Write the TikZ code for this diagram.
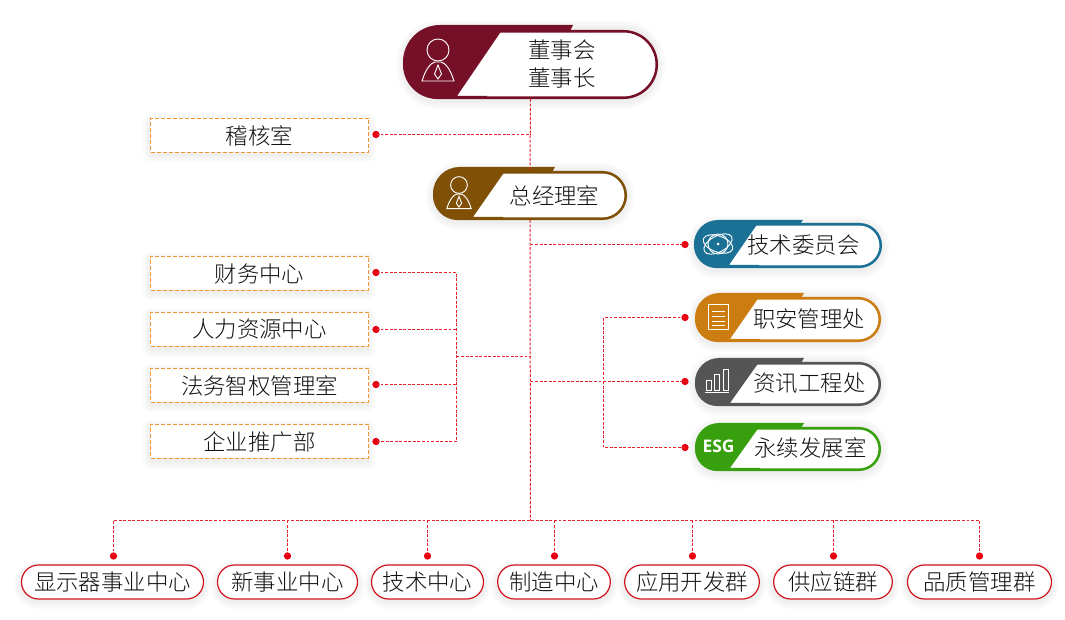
\documentclass[tikz,border=0pt]{standalone}
\usepackage{fontspec}
\setmainfont{Noto Sans CJK SC}[UprightFont=* Light,BoldFont=*]
\newfontfamily\esgfont{Open Sans}
\usetikzlibrary{shapes.misc}
\definecolor{cdsh}{HTML}{760F28}
\definecolor{czjl}{HTML}{7F5006}
\definecolor{cjsw}{HTML}{1A7195}
\definecolor{czaa}{HTML}{CB7D12}
\definecolor{czxg}{HTML}{555555}
\definecolor{cesg}{HTML}{38A00E}
\definecolor{linered}{HTML}{E8202A}
\definecolor{dotred}{HTML}{E60012}
\definecolor{pillred}{HTML}{D2141E}
\definecolor{boxorange}{HTML}{EE9534}
\definecolor{txt}{HTML}{111111}
\tikzset{
  conn/.style={draw=linered,line width=0.75pt,dash pattern=on 2.2pt off 1.2pt},
  dot/.style={circle,fill=dotred,inner sep=0pt,minimum size=5.5pt},
  lab/.style={text=txt,font=\fontsize{16.8}{21}\selectfont,inner sep=0pt},
  boxn/.style={draw=boxorange,line width=0.95pt,dash pattern=on 3pt off 1.5pt,fill=white,
    inner sep=0pt,minimum width=163.5pt,minimum height=25.5pt,lab},
  botpill/.style={rounded rectangle,draw=pillred,line width=0.9pt,fill=white,inner sep=0pt,
    minimum height=25.5pt,lab},
  icon/.style={draw=white,line width=0.7pt,fill=none},
  shadowlayer/.style={fill=black,opacity=0.014}
}
% soft shadow: L T R B radius(px)
\newcommand\softshade[5]{%
  \foreach \k in {1,3,5,7}{%
    \fill[shadowlayer,rounded corners={(#5+\k)*0.75pt}]
      (#1-\k,#2-\k+3) rectangle (#3+\k,#4+\k+3);}}
% name L R T T2 B tabR whiteTopX whiteBottomX ; colour is c<name>
\newcommand\pillshape[9]{%
  \pgfmathsetmacro\pr{(#6-#5)/2}%
  \pgfmathsetmacro\prr{(#6-#4)/2}%
  \softshade{#2}{#4}{#3}{#6}{\pr}
  \node[rounded rectangle,draw=c#1,fill=white,line width=1.9pt,inner sep=0pt,
    minimum width={(#3-#2-2.5)*0.75pt},minimum height={(#6-#5-2.5)*0.75pt}]
    (#1) at ({(#2+#3)/2},{(#5+#6)/2}) {};
  \fill[c#1] (#7,#4) -- (#7-3,#5+1)  -- (#8+1,#5+1) -- (#8,#5+3) -- (#9,#6-3) -- (#9+30,#6-3) -- (#9+30,#6)
    [rounded corners={\prr*0.75pt}] -- (#2,#6) -- (#2,#4) [sharp corners] -- cycle;
}
% person icon: centre x, head y, scale
\newcommand\person[3]{%
  \begin{scope}[shift={(#1,#2)},scale=#3]
    \draw[icon] (0,0) circle [radius=11];
    \draw[icon] (-16,31) .. controls (-12,18) and (-7,13) .. (-3,12) -- (3,12)
       .. controls (7,13) and (12,18) .. (16,31) -- cycle;
    \draw[icon] (0,15) -- (3.5,24) -- (0,29) -- (-3.5,24) -- cycle;
  \end{scope}}
\begin{document}
\begin{tikzpicture}[x=0.75pt,y=-0.75pt]
\useasboundingbox (0,0) rectangle (1065,620);
\fill[white] (0,0) rectangle (1065,620);

% ---- top pills
\pillshape{dsh}{403}{658}{25}{30}{99}{573}{500}{457}
\person{438}{50}{1}
\node[lab,align=center] (dsh-t) at (562,64) {董事会\\[0pt]董事长};
\pillshape{zjl}{433}{627}{167}{171}{220}{555}{503}{473}
\person{459}{185}{0.76}
\node[lab] (zjl-t) at (554.5,196) {总经理室};

% ---- right pills
\pillshape{jsw}{694}{882}{220}{223}{268}{803}{756}{729}
\begin{scope}[shift={(718,244)}]
  \draw[icon,rotate=28] (0,0) ellipse [x radius=15.5,y radius=8];
  \draw[icon,rotate=-20] (0,0) ellipse [x radius=15.5,y radius=8];
  \draw[icon] (0,0) circle [radius=10];
  \fill[white] (0,0) circle [radius=1.5];
\end{scope}
\node[lab] (jsw-t) at (803.5,245) {技术委员会};

\pillshape{zaa}{695}{881}{293}{297}{342}{804}{757}{730}
\draw[icon] (708,304.5) rectangle (728.5,329);
\foreach \yy in {311,316,321,325}{\draw[white,line width=0.6pt] (712,\yy) -- (725,\yy);}
\node[lab] (zaa-t) at (809,319) {职安管理处};

\pillshape{zxg}{695}{881}{358}{362}{406}{804}{757}{730}
\draw[icon] (706,380) rectangle (711,390);
\draw[icon] (714,374) rectangle (719.5,390);
\draw[icon] (723,369) rectangle (728.5,390);
\draw[white,line width=0.8pt] (705,392.5) -- (729,392.5);
\node[lab] (zxg-t) at (809.5,383) {资讯工程处};

\pillshape{esg}{695}{881}{423}{427}{471}{804}{757}{730}
\node[text=white,font=\esgfont\bfseries\fontsize{13}{15}\selectfont,inner sep=0pt] (esg-i) at (718.5,446.5) {ESG};
\node[lab] (esg-t) at (810.5,448) {永续发展室};

% ---- left boxes
\foreach \tt/\bb in {118/152,256/290,312/347,368/402,424/459}{
  \softshade{150}{\tt}{368}{\bb}{0}
}
\node[boxn] (bjh) at (259.5,135.5) {稽核室};
\node[boxn] (bcw) at (259.5,273.5) {财务中心};
\node[boxn] (brl) at (259.5,329.5) {人力资源中心};
\node[boxn] (bfw) at (259.5,385.5) {法务智权管理室};
\node[boxn] (bqy) at (259.5,441.5) {企业推广部};

% ---- bottom pills
\foreach \aa/\cc in {21/204,217/358,371/484,497/611,624/760,773/893,907/1052}{
  \softshade{\aa}{565}{\cc}{599}{17}
}
\node[botpill,minimum width=136.5pt] (p1) at (112.5,582) {显示器事业中心};
\node[botpill,minimum width=105pt]   (p2) at (287.5,582) {新事业中心};
\node[botpill,minimum width=84pt]    (p3) at (427.5,582) {技术中心};
\node[botpill,minimum width=84.5pt]  (p4) at (554,582) {制造中心};
\node[botpill,minimum width=101pt]   (p5) at (692,582) {应用开发群};
\node[botpill,minimum width=89pt]    (p6) at (833,582) {供应链群};
\node[botpill,minimum width=108pt]   (p7) at (979.5,582) {品质管理群};

% ---- dots
\node[dot] (dj) at (376,134.5) {};
\node[dot] (dl1) at (376,272.5) {};
\node[dot] (dl2) at (376,329.5) {};
\node[dot] (dl3) at (376,384.5) {};
\node[dot] (dl4) at (376,441.5) {};
\node[dot] (dt) at (685,244.5) {};
\node[dot] (dr1) at (685,317.5) {};
\node[dot] (dr2) at (685,381.5) {};
\node[dot] (dr3) at (685,447.5) {};
\node[dot] (db1) at (113.5,556) {};
\node[dot] (db2) at (287.5,556) {};
\node[dot] (db3) at (427.5,556) {};
\node[dot] (db4) at (554.5,556) {};
\node[dot] (db5) at (692.5,556) {};
\node[dot] (db6) at (833.5,556) {};
\node[dot] (db7) at (979.5,556) {};

% ---- junctions
\coordinate (tj) at (530.5,134.5);
\coordinate (tt) at (530.5,244.5);
\coordinate (tl) at (530.5,356.5);
\coordinate (tr) at (530.5,381.5);
\coordinate (tb) at (530.5,520.5);
\coordinate (jl) at (456.5,356.5);
\coordinate (jl1) at (456.5,272.5);
\coordinate (jl2) at (456.5,329.5);
\coordinate (jl3) at (456.5,384.5);
\coordinate (jl4) at (456.5,441.5);
\coordinate (jr1) at (603.5,317.5);
\coordinate (jr3) at (603.5,447.5);
\coordinate (bb1) at (113.5,520.5);
\coordinate (bb2) at (287.5,520.5);
\coordinate (bb3) at (427.5,520.5);
\coordinate (bb4) at (554.5,520.5);
\coordinate (bb5) at (692.5,520.5);
\coordinate (bb6) at (833.5,520.5);
\coordinate (bb7) at (979.5,520.5);

% ---- connectors
\draw[conn] (dsh.south) -- (zjl.north);
\draw[conn] (zjl.south) -- (tb);
\draw[conn] (dj.center) -- (tj);
\draw[conn] (tt) -- (dt.center);
\draw[conn] (dl1.center) -- (jl1) -- (jl4) -- (dl4.center);
\draw[conn] (dl2.center) -- (jl2);
\draw[conn] (dl3.center) -- (jl3);
\draw[conn] (jl) -- (tl);
\draw[conn] (tr) -- (dr2.center);
\draw[conn] (dr1.center) -- (jr1) -- (jr3) -- (dr3.center);
\draw[conn] (db1.center) -- (bb1) -- (bb7) -- (db7.center);
\draw[conn] (bb2) -- (db2.center);
\draw[conn] (bb3) -- (db3.center);
\draw[conn] (bb4) -- (db4.center);
\draw[conn] (bb5) -- (db5.center);
\draw[conn] (bb6) -- (db6.center);
\end{tikzpicture}
\end{document}
